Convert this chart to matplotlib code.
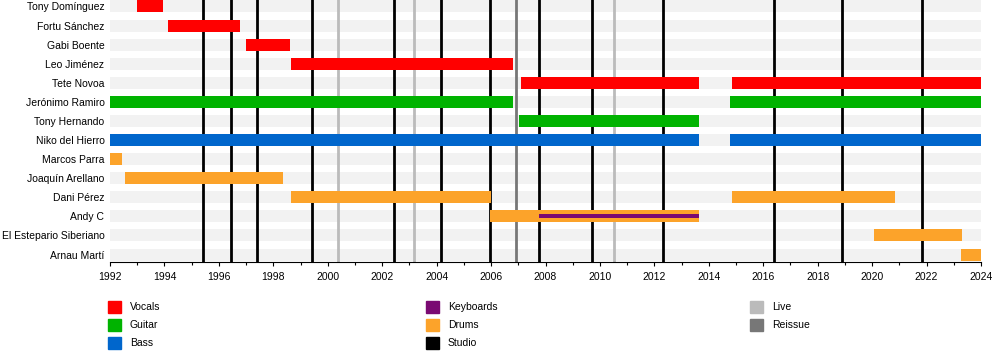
import matplotlib
matplotlib.use("Agg")
from matplotlib import pyplot as plt
from matplotlib.patches import Rectangle

plt.rcParams['font.family'] = ['Liberation Sans', 'DejaVu Sans']

# miembros, de arriba a abajo
members = ["Tony Domínguez", "Fortu Sánchez", "Gabi Boente", "Leo Jiménez",
           "Tete Novoa", "Jerónimo Ramiro", "Tony Hernando", "Niko del Hierro",
           "Marcos Parra", "Joaquín Arellano", "Dani Pérez", "Andy C",
           "El Estepario Siberiano", "Arnau Martí"]

# (miembro, inicio, fin, rol)
periods = [
    ("Tony Domínguez", 1993.0, 1993.95, "Vocals"),
    ("Fortu Sánchez", 1994.13, 1996.78, "Vocals"),
    ("Gabi Boente", 1997.0, 1998.61, "Vocals"),
    ("Leo Jiménez", 1998.65, 2006.8, "Vocals"),
    ("Tete Novoa", 2007.1, 2013.64, "Vocals"),
    ("Tete Novoa", 2014.85, 2024.0, "Vocals"),
    ("Jerónimo Ramiro", 1992.0, 2006.8, "Guitar"),
    ("Jerónimo Ramiro", 2014.78, 2024.0, "Guitar"),
    ("Tony Hernando", 2007.03, 2013.64, "Guitar"),
    ("Niko del Hierro", 1992.0, 2013.64, "Bass"),
    ("Niko del Hierro", 2014.78, 2024.0, "Bass"),
    ("Marcos Parra", 1992.0, 1992.44, "Drums"),
    ("Joaquín Arellano", 1992.56, 1998.34, "Drums"),
    ("Dani Pérez", 1998.65, 2006.0, "Drums"),
    ("Dani Pérez", 2014.85, 2020.84, "Drums"),
    ("Andy C", 2005.96, 2013.64, "Drums"),
    ("El Estepario Siberiano", 2020.07, 2023.3, "Drums"),
    ("Arnau Martí", 2023.26, 2024.0, "Drums"),
]
# teclados (barra fina)
keyboards = [("Andy C", 2007.76, 2013.64)]

studio_years = [1995.42, 1996.45, 1997.4, 1999.42, 2002.43, 2004.16, 2005.96,
                2007.76, 2009.71, 2012.32, 2016.39, 2018.89, 2021.83]
live_years = [2000.38, 2003.17, 2010.52]
reissue_years = [2006.92]

colors = {"Vocals": "#ff0000", "Guitar": "#00b300", "Bass": "#0066cc",
          "Keyboards": "#7a0a72", "Drums": "#fca32a", "Studio": "#000000",
          "Live": "#bbbbbb", "Reissue": "#777777"}

fig = plt.figure(figsize=(10, 3.6), dpi=100)
ax = fig.add_axes([0.11, 1 - 262 / 360, 0.871, 262 / 360])

x0, x1 = 1992, 2024
h = 0.63
for i in range(len(members)):
    ax.barh(i, x1 - x0, left=x0, height=h, color="#f2f2f2", zorder=0)

for x in studio_years:
    ax.axvline(x, color=colors["Studio"], lw=2, zorder=1)
for x in live_years:
    ax.axvline(x, color=colors["Live"], lw=2, zorder=1)
for x in reissue_years:
    ax.axvline(x, color=colors["Reissue"], lw=2, zorder=1)

for name, a, b, role in periods:
    ax.barh(members.index(name), b - a, left=a, height=h, color=colors[role], zorder=2)
for name, a, b in keyboards:
    ax.barh(members.index(name), b - a, left=a, height=0.2, color=colors["Keyboards"], zorder=3)

ax.set_xlim(x0, x1)
ax.set_ylim(13.39, -0.34)
ax.set_yticks(range(len(members)))
ax.set_yticklabels(members, fontsize=7.5)
ax.tick_params(axis="y", length=0, pad=4)
ax.set_xticks(range(1992, 2025, 2))
ax.set_xticks(range(1992, 2025), minor=True)
ax.tick_params(axis="x", which="major", length=3, width=0.8, labelsize=7.5, pad=4)
ax.tick_params(axis="x", which="minor", length=2, width=0.8)
for s in ["top", "right", "left"]:
    ax.spines[s].set_visible(False)
ax.spines["bottom"].set_linewidth(0.8)

# leyenda
legend = [("Vocals", 108, 307), ("Guitar", 108, 325), ("Bass", 108, 343),
          ("Keyboards", 426, 307), ("Drums", 426, 325), ("Studio", 426, 343),
          ("Live", 750, 307), ("Reissue", 750, 325)]
for label, px, py in legend:
    fig.add_artist(Rectangle((px / 1000, 1 - (py + 6) / 360), 13 / 1000, 12 / 360,
                             transform=fig.transFigure, color=colors[label]))
    fig.text((px + 22) / 1000, 1 - py / 360, label, fontsize=7.5, va="center")

plt.savefig("out.png", dpi=100)
